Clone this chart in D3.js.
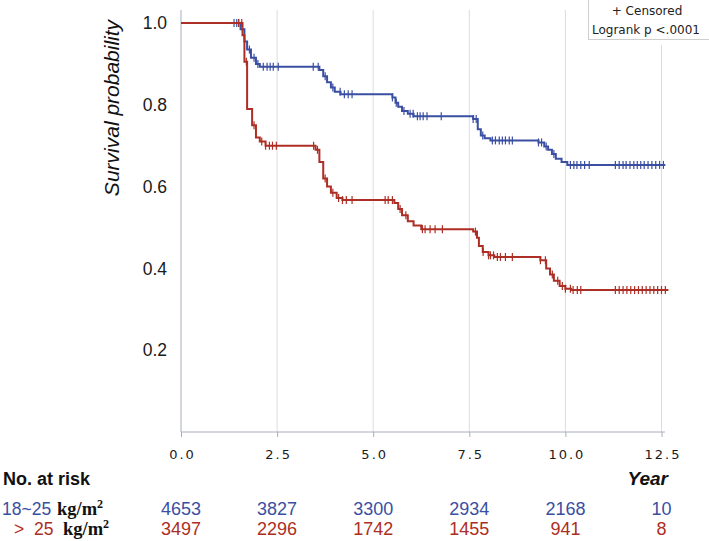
<!DOCTYPE html>
<html>
<head>
<meta charset="utf-8">
<script src="https://cdn.jsdelivr.net/npm/d3@7"></script>
<style>
  body { margin: 0; background: #fff; }
  svg { display: block; }
</style>
</head>
<body>
<div id="chart"></div>
<script>
"use strict";

// Kaplan-Meier steps: [time (years), survival after the step]
var normalSteps = [
  [0, 1.0], [1.55, 0.985], [1.65, 0.955], [1.72, 0.935], [1.82, 0.915], [1.95, 0.900], [2.05, 0.893],
  [3.6, 0.885], [3.7, 0.870], [3.8, 0.855], [3.9, 0.842], [4.0, 0.832], [4.15, 0.826],
  [5.5, 0.818], [5.58, 0.805], [5.65, 0.795], [5.75, 0.785], [5.9, 0.778], [6.05, 0.772],
  [7.6, 0.765], [7.72, 0.740], [7.8, 0.725], [7.9, 0.718], [8.05, 0.713],
  [9.3, 0.708], [9.45, 0.698], [9.55, 0.690], [9.65, 0.680], [9.75, 0.668], [9.9, 0.660], [10.05, 0.653],
  [12.6, 0.653]
];
var overSteps = [
  [0, 1.0], [1.6, 0.97], [1.65, 0.905], [1.72, 0.79], [1.85, 0.75], [1.95, 0.72], [2.05, 0.71], [2.2, 0.70],
  [3.5, 0.69], [3.6, 0.66], [3.7, 0.62], [3.8, 0.60], [3.9, 0.585], [4.05, 0.572], [4.2, 0.567],
  [5.55, 0.56], [5.65, 0.545], [5.75, 0.53], [5.9, 0.515], [6.05, 0.505], [6.25, 0.496],
  [7.6, 0.49], [7.7, 0.475], [7.75, 0.455], [7.85, 0.44], [8.0, 0.432], [8.15, 0.428],
  [9.35, 0.42], [9.5, 0.40], [9.6, 0.385], [9.7, 0.37], [9.85, 0.357], [10.0, 0.35], [10.15, 0.347],
  [12.68, 0.347]
];

// censored observation times
var normalCensored = [1.38, 1.45, 1.5, 1.78, 1.9, 2.0, 2.14, 2.24, 2.32, 2.4, 2.53,
  3.44, 3.57, 3.75, 3.95, 4.14, 4.25, 4.35, 4.45, 5.5, 5.6, 5.8, 5.96, 6.04, 6.15, 6.22, 6.3, 6.4, 6.77,
  7.6, 7.68, 7.85, 8.1, 8.18, 8.28, 8.36, 8.44, 8.54, 8.62, 9.3, 9.38, 9.5, 9.7,
  10.13, 10.22, 10.3, 10.4, 10.5, 10.62,
  11.3, 11.4, 11.5, 11.58, 11.68, 11.78, 11.87, 11.96, 12.05, 12.15, 12.25, 12.35, 12.45, 12.55];
var overCensored = [1.5, 1.58, 1.7, 1.9, 2.1, 2.2, 2.3, 2.38, 2.48, 3.45, 3.55, 3.75, 3.95,
  4.1, 4.2, 4.3, 4.45, 5.31, 5.39, 5.5, 5.7, 5.85, 6.28, 6.35, 6.48, 6.61, 6.8,
  7.66, 7.86, 8.0, 8.05, 8.13, 8.23, 8.31, 8.44, 8.62, 9.35, 9.48, 9.66, 9.8, 9.92,
  10.0, 10.13, 10.2, 10.31, 10.4,
  11.3, 11.4, 11.5, 11.6, 11.7, 11.8, 11.9, 12.0, 12.1, 12.2, 12.3, 12.4, 12.5, 12.6];

var xTicks = [0, 2.5, 5, 7.5, 10, 12.5];
var yTicks = [0.2, 0.4, 0.6, 0.8, 1.0];
var riskNormal = [4653, 3827, 3300, 2934, 2168, 10];
var riskOver = [3497, 2296, 1742, 1455, 941, 8];

var blue = "#3a4fa2", red = "#ad2e24";

var width = 709, height = 541;
var svg = d3.select("#chart").append("svg")
  .attr("width", width).attr("height", height);

var x = d3.scaleLinear().domain([0, 12.5]).range([181, 661.5]);
var y = d3.scaleLinear().domain([0, 1]).range([432, 23]);

// gridlines
svg.append("g").selectAll("line")
  .data(xTicks.slice(1))
  .enter().append("line")
  .attr("x1", function (d) { return x(d); })
  .attr("x2", function (d) { return x(d); })
  .attr("y1", function (d) { return d == 12.5 ? 45 : 10; })
  .attr("y2", 432)
  .attr("stroke", "#dcdcdc").attr("stroke-width", 1);

// axes
var xAxis = d3.axisBottom(x).tickValues(xTicks).tickSize(5).tickFormat(d3.format(".1f"));
var gx = svg.append("g").attr("transform", "translate(0,432)").call(xAxis);
gx.select(".domain").attr("stroke", "#a7adbd").attr("d", "M181,0H665");
gx.selectAll(".tick line").attr("stroke", "#a7adbd");
gx.selectAll("text")
  .attr("y", 27).attr("dy", null).attr("dx", 1)
  .attr("fill", "#1a1a1a")
  .style("font-family", "'DejaVu Sans', sans-serif")
  .style("font-size", "13px")
  .style("letter-spacing", "2px");

var yAxis = d3.axisLeft(y).tickValues(yTicks).tickSize(0).tickPadding(14).tickFormat(d3.format(".1f"));
var gy = svg.append("g").attr("transform", "translate(181,0)").call(yAxis);
gy.select(".domain").remove();
gy.selectAll("text")
  .attr("fill", "#1a1a1a")
  .style("font-family", "'Liberation Sans', Arial, sans-serif")
  .style("font-size", "17.5px");
svg.append("line")
  .attr("x1", 181).attr("x2", 181).attr("y1", 10).attr("y2", 432)
  .attr("stroke", "#a7adbd");

// curves
var line = d3.line()
  .x(function (d) { return x(d[0]); })
  .y(function (d) { return y(d[1]); })
  .curve(d3.curveStepAfter);

function survAt(steps, t) {
  var s = 1;
  steps.forEach(function (d) { if (d[0] <= t) s = d[1]; });
  return s;
}

var groups = [
  { steps: normalSteps, cens: normalCensored, color: blue },
  { steps: overSteps, cens: overCensored, color: red }
];

groups.forEach(function (g) {
  svg.append("path")
    .datum(g.steps)
    .attr("d", line)
    .attr("fill", "none")
    .attr("stroke", g.color)
    .attr("stroke-width", 2);
  svg.append("g").selectAll("line")
    .data(g.cens)
    .enter().append("line")
    .attr("x1", function (d) { return x(d); })
    .attr("x2", function (d) { return x(d); })
    .attr("y1", function (d) { return y(survAt(g.steps, d)) - 4; })
    .attr("y2", function (d) { return y(survAt(g.steps, d)) + 4; })
    .attr("stroke", g.color)
    .attr("stroke-width", 1.2);
});

// y label
svg.append("text")
  .attr("transform", "translate(119,108) rotate(-90)")
  .attr("text-anchor", "middle")
  .style("font-family", "'Liberation Sans', Arial, sans-serif")
  .style("font-style", "italic")
  .style("font-size", "21px")
  .attr("fill", "#111")
  .text("Survival probability");

// x label
svg.append("text")
  .attr("x", 668).attr("y", 485)
  .attr("text-anchor", "end")
  .style("font-family", "'Liberation Sans', Arial, sans-serif")
  .style("font-style", "italic")
  .style("font-weight", "bold")
  .style("font-size", "19px")
  .attr("fill", "#111")
  .text("Year");

// legend box
svg.append("rect")
  .attr("x", 588.5).attr("y", -1).attr("width", 130).attr("height", 40.5)
  .attr("fill", "#fff").attr("stroke", "#cfcfcf");
svg.append("text")
  .attr("x", 647).attr("y", 15).attr("text-anchor", "middle")
  .style("font-family", "'DejaVu Sans', sans-serif").style("font-size", "12px")
  .attr("fill", "#222").text("+ Censored");
svg.append("text")
  .attr("x", 592).attr("y", 34)
  .style("font-family", "'DejaVu Sans', sans-serif").style("font-size", "12px")
  .attr("fill", "#222").text("Logrank p <.0001");

// number at risk table
svg.append("text")
  .attr("x", 3).attr("y", 485)
  .style("font-family", "'Liberation Sans', Arial, sans-serif")
  .style("font-weight", "bold").style("font-size", "18px")
  .attr("fill", "#111").text("No. at risk");

var rows = [
  { vals: riskNormal, color: blue, y: 515, label: "18~25", lx: 2, kx: 57 },
  { vals: riskOver, color: red, y: 535, label: ">  25", lx: 14, kx: 63 }
];
rows.forEach(function (r) {
  svg.append("text")
    .attr("x", r.lx).attr("y", r.y)
    .attr("xml:space", "preserve")
    .style("white-space", "pre")
    .style("font-family", "'Liberation Sans', Arial, sans-serif")
    .style("font-size", "17.5px")
    .attr("fill", r.color).text(r.label);
  var k = svg.append("text")
    .attr("x", r.kx).attr("y", r.y)
    .style("font-family", "'Liberation Serif', 'Times New Roman', serif")
    .style("font-weight", "bold").style("font-size", "18.5px")
    .attr("fill", "#111");
  k.append("tspan").text("kg/m");
  k.append("tspan").attr("dy", -7).style("font-size", "12px").text("2");
  svg.append("g").selectAll("text")
    .data(r.vals)
    .enter().append("text")
    .attr("x", function (d, i) { return x(xTicks[i]); })
    .attr("y", r.y)
    .attr("text-anchor", "middle")
    .style("font-family", "'Liberation Sans Narrow', 'Liberation Sans', Arial, sans-serif")
    .style("font-size", "18px")
    .attr("fill", r.color)
    .text(function (d) { return d; });
});
</script>
</body>
</html>
